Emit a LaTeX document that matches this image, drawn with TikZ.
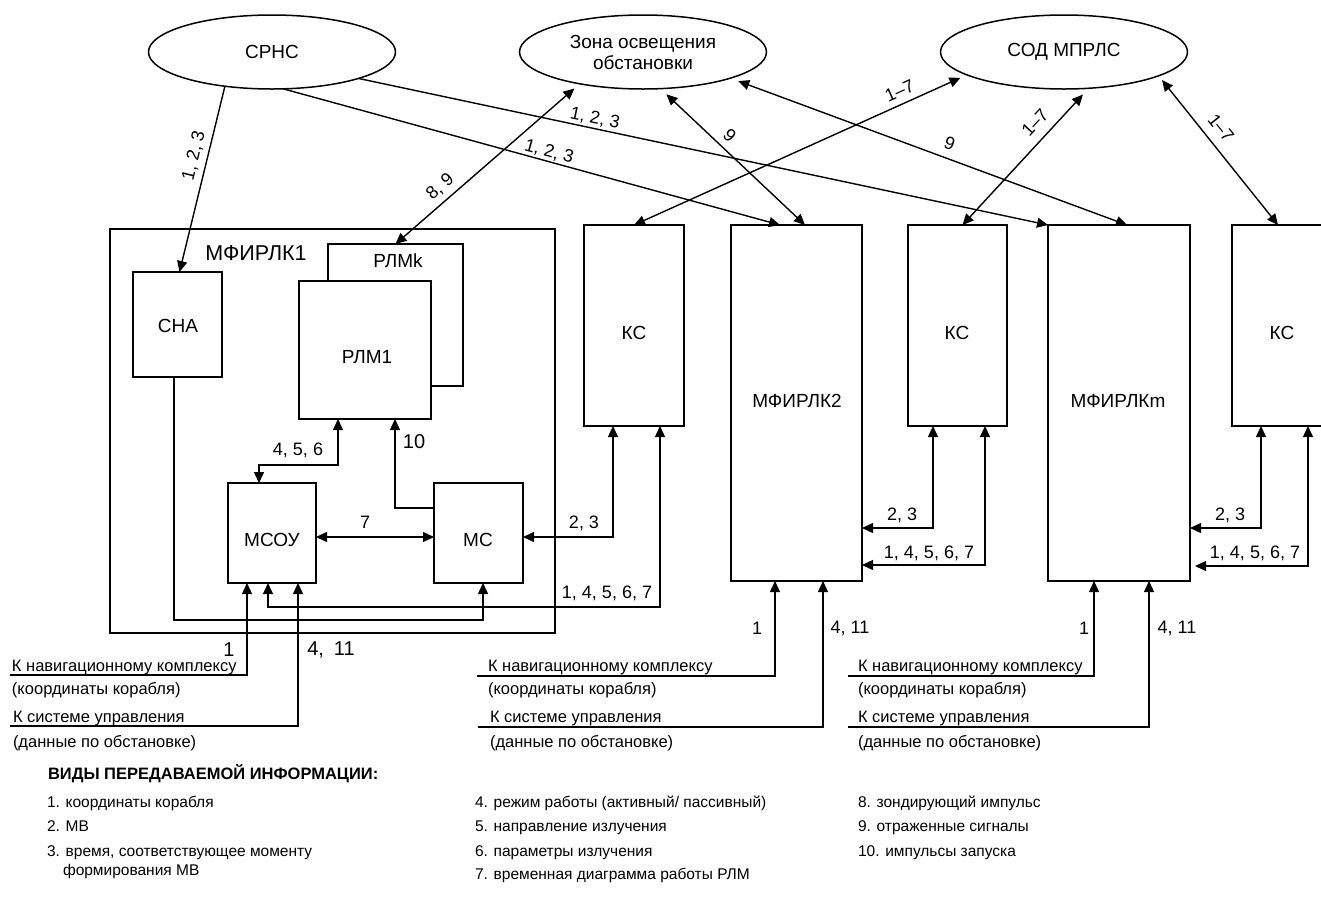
\documentclass[tikz,border=0pt]{standalone}
\usepackage{fontspec}
\setmainfont{Liberation Sans}
\usetikzlibrary{shapes.geometric,arrows.meta,calc}
\newcommand\fsLab{\fontsize{18}{22}\selectfont}
\newcommand\fsTxt{\fontsize{19}{22}\selectfont}
\newcommand\fsBig{\fontsize{21.5}{24}\selectfont}
\newcommand\fsGrp{\fontsize{16.5}{19}\selectfont}
\newcommand\fsLeg{\fontsize{15.5}{19}\selectfont}
\newcommand\fsTit{\fontsize{16.5}{19}\selectfont\bfseries}
\begin{document}
\begin{tikzpicture}[x=1pt,y=-1pt,
  every node/.style={inner sep=0pt,outer sep=0pt},
  wire/.style={line width=1.4pt},
  arr/.style={wire,-{Triangle[length=11pt,width=10pt]}},
  darr/.style={wire,{Triangle[length=11pt,width=10pt]}-{Triangle[length=11pt,width=10pt]}},
  oval/.style={ellipse,draw,line width=1.5pt,minimum width=247pt,minimum height=74pt,align=center,font=\fsTxt},
  box/.style={draw,line width=1.4pt,rectangle,fill=white},
  lab/.style={font=\fsLab},
  txt/.style={font=\fsTxt},
  grp/.style={font=\fsGrp,anchor=base west},
  leg/.style={font=\fsLeg,anchor=base west},
  tit/.style={font=\fsTit,anchor=base west}]
\useasboundingbox[fill=white] (0,0) rectangle (1321,911);

% ellipses
\node[oval] (srnc) at (272,52) {СРНС};
\node[oval,outer sep=6pt] (zona) at (643,52) {Зона освещения\\[-1pt]обстановки};
\node[oval,outer sep=6pt] (sod) at (1064,52) {СОД МПРЛС};

% boxes
\node[box,minimum width=445pt,minimum height=404pt] (mf1) at (332.5,431) {};
\node[font=\fsBig] (mf1t) at (256,253) {МФИРЛК1};
\node[box,minimum width=89pt,minimum height=105pt] (sna) at (177.5,324.5) {};
\node[txt] (snat) at (178,326) {СНА};
\node[box,minimum width=135pt,minimum height=142pt] (rlmk) at (395.5,315) {};
\node[txt] (rlmkt) at (398,261) {РЛМk};
\node[box,minimum width=132pt,minimum height=138pt] (rlm1) at (365,350) {};
\node[txt] (rlm1t) at (367,357) {РЛМ1};
\node[box,minimum width=88pt,minimum height=100pt] (msou) at (272,533) {};
\node[txt] (msout) at (272,540) {МСОУ};
\node[box,minimum width=89pt,minimum height=100pt] (ms) at (478.5,533) {};
\node[txt] (mst) at (478,540) {МС};
\node[box,minimum width=100pt,minimum height=201pt] (ks1) at (634,325.5) {};
\node[txt] (ks1t) at (634,333) {КС};
\node[box,minimum width=131pt,minimum height=356pt] (mf2) at (796.5,403) {};
\node[txt] (mf2t) at (797,401) {МФИРЛК2};
\node[box,minimum width=99pt,minimum height=201pt] (ks2) at (957.5,325.5) {};
\node[txt] (ks2t) at (957,333) {КС};
\node[box,minimum width=142pt,minimum height=356pt] (mfm) at (1119,403) {};
\node[txt] (mfmt) at (1118,401) {МФИРЛКm};
\node[box,minimum width=100pt,minimum height=201pt] (ks3) at (1282,325.5) {};
\node[txt] (ks3t) at (1282,333) {КС};

% top connectors
\draw[arr] (srnc.216) -- ([xshift=2pt]sna.north)
  node[lab,pos=0.39,sloped,above=6pt] {1, 2, 3};
\draw[arr] (srnc.287) -- ([xshift=-16.5pt]mf2.north)
  node[lab,pos=0.53,sloped,above=2pt] {1, 2, 3};
\draw[arr] (srnc.343) -- (mfm.north west)
  node[lab,pos=0.34,sloped,above=2.5pt] {1, 2, 3};
\draw[darr] (zona.208) -- (rlmk.north)
  node[lab,pos=0.70,sloped,above=6pt] {8, 9};
\draw[darr] (zona.299) -- ([xshift=8.5pt]mf2.north)
  node[lab,pos=0.39,sloped,above=7pt] {9};
\draw[darr] (zona.343) -- ([xshift=8pt]mfm.north)
  node[lab,pos=0.53,sloped,above=9pt] {9};
\draw[darr] (sod.194) -- (ks1.north)
  node[lab,pos=0.17,sloped,above=7pt] {1--7};
\draw[darr] (sod.294) -- ([xshift=5pt]ks2.north)
  node[lab,pos=0.30,sloped,above=10pt] {1--7};
\draw[darr] (sod.344) -- ([xshift=-4pt]ks3.north)
  node[lab,pos=0.40,sloped,above=10pt] {1--7};

% inner connectors of MFIRLK1
\draw[darr] ([xshift=-27pt]rlm1.south) -- ++(0,46) -| ([xshift=-13pt]msou.north);
\node[lab] (l456) at (298,450) {4, 5, 6};
\draw[arr] ([yshift=25pt]ms.west) -| ([xshift=30pt]rlm1.south);
\node[font=\fontsize{20}{24}\selectfont] (l10) at (414,442) {10};
\draw[darr] ([yshift=-4pt]msou.east) -- ([yshift=-4pt]ms.west);
\node[lab] (l7) at (365,522) {7};
\draw[darr] ([yshift=-4pt]ms.east) -| ([xshift=-21pt]ks1.south);
\node[lab] (l23a) at (584,523) {2, 3};
\draw[darr] ([xshift=26pt]ks1.south) |- ([xshift=-4pt,yshift=-24pt]msou.south) -- ([xshift=-4pt]msou.south);
\node[lab] (l14a) at (607,593) {1, 4, 5, 6, 7};
\draw[arr] ([xshift=-3.5pt]sna.south) |- ([xshift=4.5pt,yshift=-37pt]ms.south) -- ([xshift=4.5pt]ms.south);

% MFIRLK2 / MFIRLKm links to KS
\draw[darr] ([yshift=-125pt]mf2.east) -| ([xshift=-24.5pt]ks2.south);
\node[lab] (l23b) at (902,515) {2, 3};
\draw[darr] ([yshift=-162pt]mf2.east) -| ([xshift=27.5pt]ks2.south);
\node[lab] (l14b) at (929,553) {1, 4, 5, 6, 7};
\draw[darr] ([yshift=-125pt]mfm.east) -| ([xshift=-21pt]ks3.south);
\node[lab] (l23c) at (1230,515) {2, 3};
\draw[darr] ([xshift=5pt,yshift=-163pt]mfm.east) -| ([xshift=26pt]ks3.south);
\node[lab] (l14c) at (1255,553) {1, 4, 5, 6, 7};

% external inputs
\coordinate (nav1) at (10,675);
\coordinate (sys1) at (10,726);
\coordinate (nav2) at (477,676);
\coordinate (sys2) at (478,727);
\coordinate (nav3) at (848,676);
\coordinate (sys3) at (848,727);
\draw[arr] (nav1) -| ([xshift=-25pt]msou.south);
\draw[arr] (sys1) -| ([xshift=26pt]msou.south);
\draw[arr] (nav2) -| ([xshift=-21.5pt]mf2.south);
\draw[arr] (sys2) -| ([xshift=26.5pt]mf2.south);
\draw[arr] (nav3) -| ([xshift=-25pt]mfm.south);
\draw[arr] (sys3) -| ([xshift=30pt]mfm.south);
\node[font=\fontsize{20}{24}\selectfont] (l1a) at (229,650) {1};
\node[font=\fontsize{20}{24}\selectfont] (l411a) at (331,650) {4,\enspace 11};
\node[lab] (l1b) at (757,628) {1};
\node[lab] (l411b) at (850,628) {4, 11};
\node[lab] (l1c) at (1084,628) {1};
\node[lab] (l411c) at (1177,628) {4, 11};

\node[grp] (g1a) at (12,671) {К навигационному комплексу};
\node[grp] (g1b) at (12,694) {(координаты корабля)};
\node[grp] (g1c) at (13,722) {К системе управления};
\node[grp] (g1d) at (13,747) {(данные по обстановке)};
\node[grp] (g2a) at (488,671) {К навигационному комплексу};
\node[grp] (g2b) at (488,694) {(координаты корабля)};
\node[grp] (g2c) at (490,722) {К системе управления};
\node[grp] (g2d) at (490,747) {(данные по обстановке)};
\node[grp] (g3a) at (858,671) {К навигационному комплексу};
\node[grp] (g3b) at (858,694) {(координаты корабля)};
\node[grp] (g3c) at (858,722) {К системе управления};
\node[grp] (g3d) at (858,747) {(данные по обстановке)};

% legend
\node[tit] (ltit) at (48,779) {ВИДЫ ПЕРЕДАВАЕМОЙ ИНФОРМАЦИИ:};
\node[leg] (le1) at (47,807) {1. координаты корабля};
\node[leg] (le2) at (47,831) {2. МВ};
\node[leg] (le3) at (47,856) {3. время, соответствующее моменту};
\node[leg] (le3b) at (63,875) {формирования МВ};
\node[leg] (le4) at (475,807) {4. режим работы (активный/ пассивный)};
\node[leg] (le5) at (475,831) {5. направление излучения};
\node[leg] (le6) at (475,856) {6. параметры излучения};
\node[leg] (le7) at (475,879) {7. временная диаграмма работы РЛМ};
\node[leg] (le8) at (858,807) {8. зондирующий импульс};
\node[leg] (le9) at (858,831) {9. отраженные сигналы};
\node[leg] (le10) at (858,856) {10. импульсы запуска};
\end{tikzpicture}
\end{document}
